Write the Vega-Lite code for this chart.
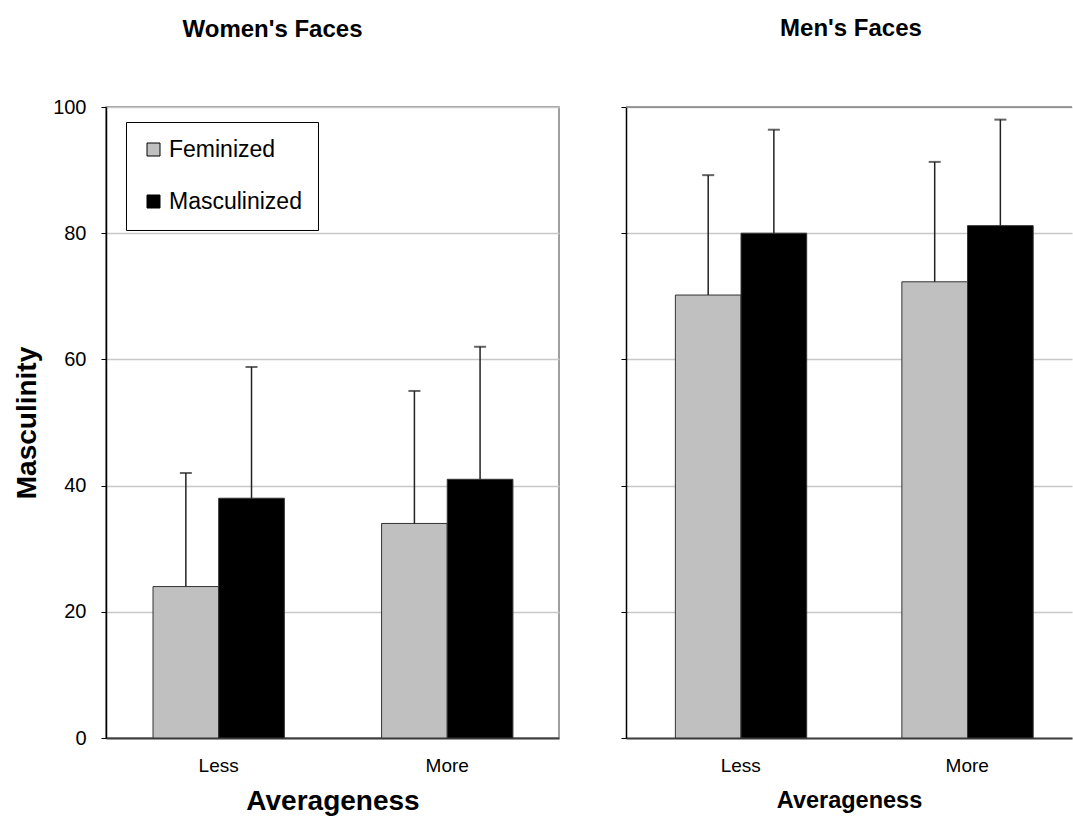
{
  "$schema": "https://vega.github.io/schema/vega-lite/v6.json",
  "background": "white",
  "padding": {"left": 12, "top": 17, "right": 0, "bottom": 0},
  "config": {
    "font": "Liberation Sans",
    "axis": {"labelColor": "black", "titleColor": "black", "labelFont": "Liberation Sans", "titleFont": "Liberation Sans"},
    "title": {"color": "black", "font": "Liberation Sans"}
  },
  "datasets": {
    "women": [
      {"avg": "Less", "type": "Feminized", "value": 24, "err": 42},
      {"avg": "Less", "type": "Masculinized", "value": 38, "err": 58.8},
      {"avg": "More", "type": "Feminized", "value": 34, "err": 55},
      {"avg": "More", "type": "Masculinized", "value": 41, "err": 62}
    ],
    "men": [
      {"avg": "Less", "type": "Feminized", "value": 70.2, "err": 89.2},
      {"avg": "Less", "type": "Masculinized", "value": 80, "err": 96.4},
      {"avg": "More", "type": "Feminized", "value": 72.3, "err": 91.3},
      {"avg": "More", "type": "Masculinized", "value": 81.2, "err": 98}
    ]
  },
  "spacing": 60,
  "resolve": {"scale": {"color": "independent"}, "legend": {"color": "independent"}},
  "hconcat": [
    {
      "width": 453,
      "height": 631,
      "title": {"text": "Women's Faces", "frame": "group", "anchor": "middle", "dx": -60, "offset": 55, "fontSize": 24, "fontWeight": "bold"},
      "view": {"stroke": "#808080", "strokeWidth": 1.5},
      "data": {"name": "women"},
      "layer": [
        {
          "mark": {"type": "bar", "stroke": "#333333", "strokeWidth": 1},
          "encoding": {
            "x": {"field": "avg", "type": "nominal", "title": "Averageness",
              "scale": {"paddingInner": 0.4254, "paddingOuter": 0.2037, "align": 0.505},
              "axis": {"labelAngle": 0, "labelFontSize": 19, "ticks": false, "domainColor": "#404040", "domainWidth": 2, "labelPadding": 18, "titlePadding": 12, "titleFontSize": 28, "titleFontWeight": "bold"}},
            "xOffset": {"field": "type", "type": "nominal", "scale": {"paddingInner": 0, "paddingOuter": 0}},
            "y": {"field": "value", "type": "quantitative", "title": "Masculinity",
              "scale": {"domain": [0, 100]},
              "axis": {"values": [0, 20, 40, 60, 80, 100], "labelFontSize": 20, "gridColor": "#c8c8c8", "gridWidth": 1.5, "domainColor": "black", "domainWidth": 1.5, "tickColor": "black", "tickSize": 5, "labelPadding": 15, "titlePadding": 11, "titleFontSize": 28, "titleFontWeight": "bold"}},
            "color": {"field": "type", "type": "nominal",
              "scale": {"domain": ["Feminized", "Masculinized"], "range": ["#c0c0c0", "#000000"]},
              "legend": {"orient": "none", "legendX": 20, "legendY": 15, "title": null, "labelFontSize": 23, "symbolType": "square", "symbolSize": 169, "symbolStrokeColor": "black", "symbolStrokeWidth": 1, "strokeColor": "black", "fillColor": "white", "padding": 16, "rowPadding": 28, "labelOffset": 4, "labelColor": "black"}}
          }
        },
        {
          "mark": {"type": "rule", "color": "#222222", "strokeWidth": 1.5},
          "encoding": {
            "x": {"field": "avg", "type": "nominal"},
            "xOffset": {"field": "type", "type": "nominal"},
            "y": {"field": "value", "type": "quantitative", "title": "Masculinity"},
            "y2": {"field": "err"}
          }
        },
        {
          "mark": {"type": "tick", "color": "#222222", "thickness": 2, "size": 12},
          "encoding": {
            "x": {"field": "avg", "type": "nominal"},
            "xOffset": {"field": "type", "type": "nominal"},
            "y": {"field": "err", "type": "quantitative", "title": "Masculinity"}
          }
        }
      ]
    },
    {
      "width": 446,
      "height": 631,
      "title": {"text": "Men's Faces", "frame": "group", "anchor": "middle", "dx": 2, "offset": 65, "fontSize": 24, "fontWeight": "bold"},
      "view": {"stroke": null},
      "data": {"name": "men"},
      "layer": [
        {
          "mark": {"type": "bar", "stroke": "#333333", "strokeWidth": 1},
          "encoding": {
            "x": {"field": "avg", "type": "nominal", "title": "Averageness",
              "scale": {"paddingInner": 0.4229, "paddingOuter": 0.196, "align": 0.556},
              "axis": {"labelAngle": 0, "labelFontSize": 19, "ticks": false, "domainColor": "#404040", "domainWidth": 2, "labelPadding": 18, "titlePadding": 13, "titleFontSize": 23.5, "titleFontWeight": "bold"}},
            "xOffset": {"field": "type", "type": "nominal", "scale": {"paddingInner": 0, "paddingOuter": 0}},
            "y": {"field": "value", "type": "quantitative", "title": null,
              "scale": {"domain": [0, 100]},
              "axis": {"values": [0, 20, 40, 60, 80, 100], "labels": false, "gridColor": "#c8c8c8", "gridWidth": 1.5, "domainColor": "black", "domainWidth": 1.5, "tickColor": "black", "tickSize": 5}},
            "color": {"field": "type", "type": "nominal",
              "scale": {"domain": ["Feminized", "Masculinized"], "range": ["#c0c0c0", "#000000"]},
              "legend": null}
          }
        },
        {
          "mark": {"type": "rule", "color": "#222222", "strokeWidth": 1.5},
          "encoding": {
            "x": {"field": "avg", "type": "nominal"},
            "xOffset": {"field": "type", "type": "nominal"},
            "y": {"field": "value", "type": "quantitative", "title": null},
            "y2": {"field": "err"}
          }
        },
        {
          "mark": {"type": "tick", "color": "#222222", "thickness": 2, "size": 12},
          "encoding": {
            "x": {"field": "avg", "type": "nominal"},
            "xOffset": {"field": "type", "type": "nominal"},
            "y": {"field": "err", "type": "quantitative", "title": null}
          }
        },
        {
          "data": {"values": [{}]},
          "mark": {"type": "rule", "color": "#808080", "strokeWidth": 1.5},
          "encoding": {"y": {"datum": 100}}
        }
      ]
    }
  ]
}
